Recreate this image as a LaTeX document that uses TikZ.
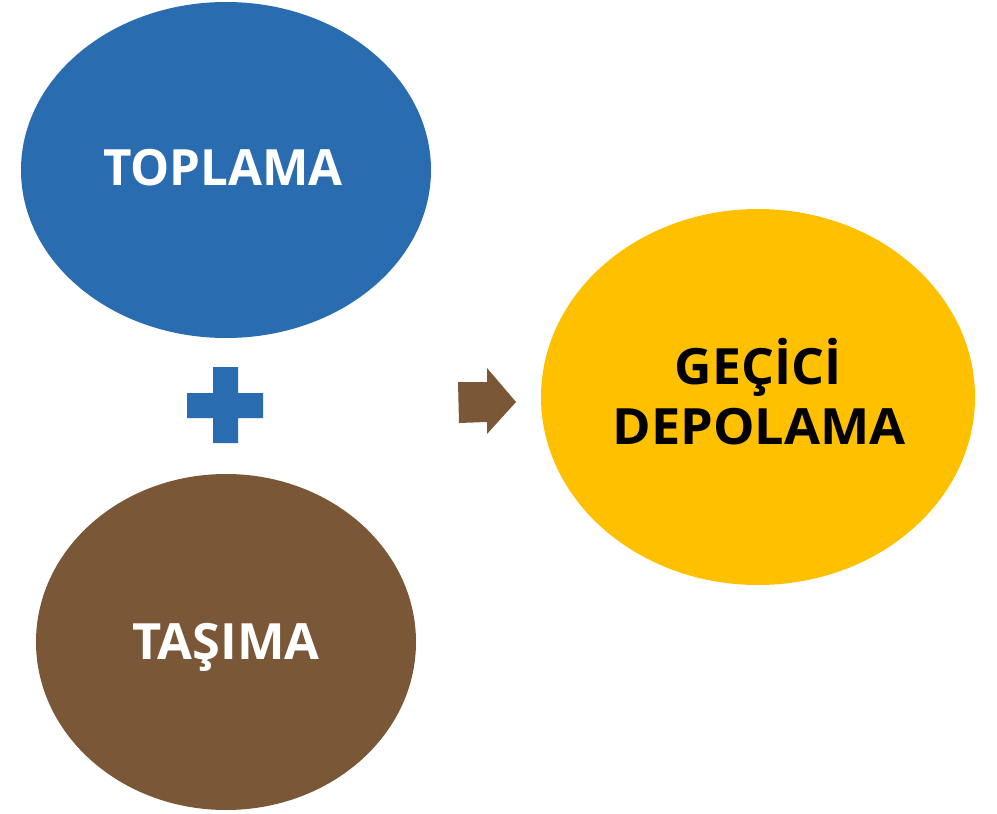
\documentclass[tikz,border=0pt]{standalone}
\usepackage{fontspec}
\setmainfont{Open Sans}
\definecolor{cblue}{HTML}{2A6CB0}
\definecolor{cbrown}{HTML}{7A5737}
\definecolor{cyellow}{HTML}{FFC000}
\begin{document}
\begin{tikzpicture}[x=1pt,y=-1pt,
  lbl/.style={font=\fontsize{50}{62}\selectfont\bfseries, align=center, inner sep=0pt}]
\useasboundingbox (0,0) rectangle (997,814);
\fill[cblue] (226,170) ellipse [x radius=205, y radius=168];
\fill[cbrown] (226,642) ellipse [x radius=190, y radius=168];
\fill[cyellow] (758,397) ellipse [x radius=217, y radius=188];
\node[lbl, text=white, anchor=base] (t1) at (223,185) {\scalebox{0.985}[1]{TOPLAMA}};
\node[lbl, text=white, anchor=base] (t2) at (226,659) {\scalebox{1.01}[1]{TAŞIMA}};
\node[lbl, text=black, anchor=base] (t3a) at (758,384) {\scalebox{1.035}[1]{GEÇİCİ}};
\node[lbl, text=black, anchor=base] (t3b) at (759,444) {\scalebox{1.045}[1]{DEPOLAMA}};
% plus sign
\fill[cblue] (213,367) -- (238,367) -- (238,393) -- (263,393) -- (263,418) -- (238,418) -- (238,443) -- (213,443) -- (213,418) -- (187,418) -- (187,393) -- (213,393) -- cycle;
% arrow
\fill[cbrown] (458,382) -- (487,382) -- (487,368) -- (516,402) -- (487,434) -- (487,422) -- (459,423) -- cycle;
\end{tikzpicture}
\end{document}
